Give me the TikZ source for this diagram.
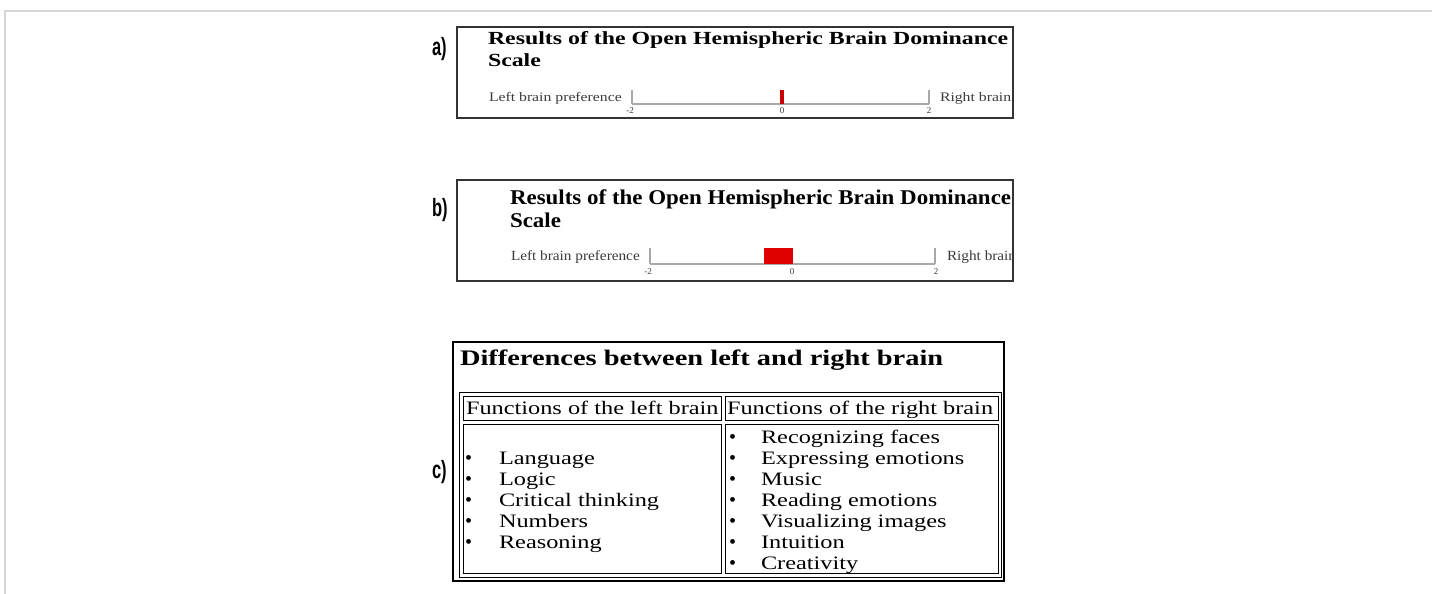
\documentclass[tikz,border=0pt]{standalone}
\usepackage{fontspec}
\setmainfont{Liberation Serif}
\newfontfamily\lblfont{Liberation Sans}
\usepackage{graphicx}
\definecolor{boxgray}{HTML}{333333}
\definecolor{txtgray}{HTML}{3A3A3A}
\definecolor{scalegray}{HTML}{A8A8A8}
\definecolor{framegray}{HTML}{D6D6D6}
\definecolor{markred}{HTML}{E00000}
\newcommand\hs[2]{\scalebox{#1}[1]{#2}}
\tikzset{
  lbl/.style={anchor=base west, font=\lblfont\bfseries\fontsize{25}{25}\selectfont},
  ttl/.style={anchor=base west, text=black},
  pref/.style={anchor=base west, text=txtgray},
  tick/.style={font=\fontsize{9}{9}\selectfont, text=txtgray},
  item/.style={anchor=base west, font=\fontsize{19}{21}\selectfont},
  bul/.style={anchor=base west, font=\fontsize{20}{21}\selectfont},
  panelbox/.style={draw=boxgray, line width=2pt},
  cell/.style={draw=black, line width=0.9pt}
}
\begin{document}
\begin{tikzpicture}[x=1pt,y=-1pt, every node/.style={inner sep=0pt, outer sep=0pt}]
\useasboundingbox (0,0) rectangle (1432,594);
% outer frame
\coordinate (fbl) at (5,594);
\coordinate (ftl) at (5,11);
\coordinate (ftr) at (1432,11);
\draw[framegray, line width=1.2pt] (fbl) -- (ftl) -- (ftr);

% ---------- panel a ----------
\node[lbl] (la) at (432,56) {\hs{0.66}{a)}};
\node[panelbox, draw, minimum width=556, minimum height=91, anchor=north west] (boxa) at (457,27) {};
\node[ttl, font=\bfseries\fontsize{18.5}{18.5}\selectfont] (ta1) at (488,44.5) {\hs{1.288}{Results of the Open Hemispheric Brain Dominance}};
\node[ttl, font=\bfseries\fontsize{18.5}{18.5}\selectfont] (ta2) at (488,66.5) {\hs{1.288}{Scale}};
\node[pref, font=\fontsize{13}{13}\selectfont] (pa) at (489,101.5) {\hs{1.21}{Left brain preference}};
\coordinate (a0) at (632,104);
\coordinate (a1) at (929,104);
\draw[scalegray, line width=1.3pt] (a0) -- (a1);
\draw[scalegray, line width=1.3pt] (a0) -- ++(0,-14);
\draw[scalegray, line width=1.3pt] (a1) -- ++(0,-14);
\node[tick] (am2) at (630,111) {-2};
\node[tick] (a00) at (782,111) {0};
\node[tick] (a2) at (929,111) {2};
\fill[markred!90!black] (780,90) rectangle (784,104);
\begin{scope}
\clip (457,27) rectangle (1012,118);
\node[pref, font=\fontsize{13}{13}\selectfont] (ra) at (940,101.5) {\hs{1.21}{Right brain}};
\end{scope}

% ---------- panel b ----------
\node[lbl] (lb) at (432,216) {\hs{0.66}{b)}};
\node[panelbox, draw, minimum width=556, minimum height=101, anchor=north west] (boxb) at (457,180) {};
\node[ttl, font=\bfseries\fontsize{21}{21}\selectfont] (tb1) at (510,204) {\hs{1.093}{Results of the Open Hemispheric Brain Dominance}};
\node[ttl, font=\bfseries\fontsize{21}{21}\selectfont] (tb2) at (510,227) {\hs{1.093}{Scale}};
\node[pref, font=\fontsize{14}{14}\selectfont] (pb) at (511,260) {\hs{1.09}{Left brain preference}};
\coordinate (b0) at (650,264);
\coordinate (b1) at (935,264);
\draw[scalegray, line width=1.3pt] (b0) -- (b1);
\draw[scalegray, line width=1.3pt] (b0) -- ++(0,-16);
\draw[scalegray, line width=1.3pt] (b1) -- ++(0,-16);
\node[tick] (bm2) at (648,272) {-2};
\node[tick] (b00) at (792,272) {0};
\node[tick] (b2) at (936,272) {2};
\fill[markred] (764,248) rectangle (793,264);
\begin{scope}
\clip (457,180) rectangle (1012,281);
\node[pref, font=\fontsize{14}{14}\selectfont] (rb) at (947,260) {\hs{1.09}{Right brain}};
\end{scope}

% ---------- panel c ----------
\node[lbl] (lc) at (432,478) {\hs{0.66}{c)}};
\node[draw=black, line width=2.4pt, minimum width=551, minimum height=239, anchor=north west] (boxc) at (453,342) {};
\node[ttl, font=\bfseries\fontsize{22.2}{22.2}\selectfont] (tc) at (460,365) {\hs{1.28}{Differences between left and right brain}};
\node[cell, minimum width=542, minimum height=185, anchor=north west] (tbl) at (459.5,392.5) {};
\node[cell, minimum width=258, minimum height=24, anchor=north west] (h1) at (463,396) {};
\node[cell, minimum width=273, minimum height=24, anchor=north west] (h2) at (725,396) {};
\node[cell, minimum width=258, minimum height=149, anchor=north west] (c1) at (463,424) {};
\node[cell, minimum width=273, minimum height=149, anchor=north west] (c2) at (725,424) {};
\node[item] (h1t) at (466,414.5) {\hs{1.28}{Functions of the left brain}};
\node[item] (h2t) at (727,414.5) {\hs{1.28}{Functions of the right brain}};
% left list
\foreach \t [count=\i from 0] in {Language,Logic,Critical thinking,Numbers,Reasoning}{
  \node[bul] (lbul\i) at (465,464.5+21*\i) {\textbullet};
  \node[item] (ltxt\i) at (499,464.5+21*\i) {\hs{1.28}{\t}};
}
% right list
\foreach \t [count=\i from 0] in {Recognizing faces,Expressing emotions,Music,Reading emotions,Visualizing images,Intuition,Creativity}{
  \node[bul] (rbul\i) at (729,443.5+21*\i) {\textbullet};
  \node[item] (rtxt\i) at (761,443.5+21*\i) {\hs{1.28}{\t}};
}
\end{tikzpicture}
\end{document}
